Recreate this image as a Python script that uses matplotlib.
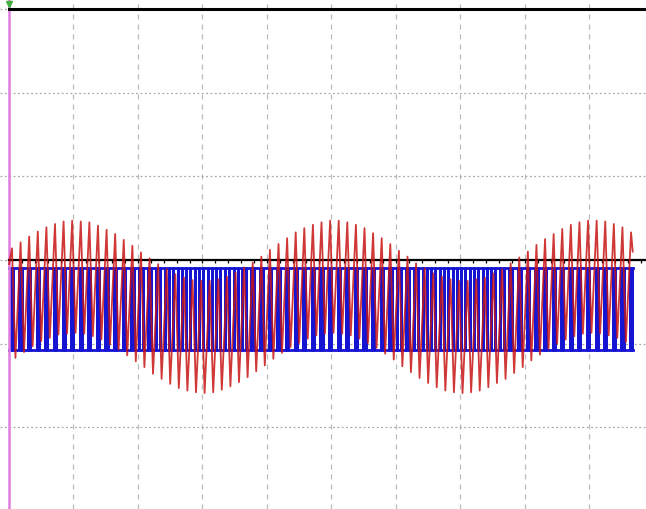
import numpy as np
import matplotlib.pyplot as plt
from matplotlib.ticker import MultipleLocator

# time and amplitude both in scope divisions
carrier_t0 = 0.0465
carrier_period = 0.1333
sig_start, sig_end = 0.0, 9.68

# red trace: value at each carrier peak and the trough that follows it
red_peaks = [0.14, 0.21, 0.28, 0.34, 0.39, 0.43, 0.46, 0.47, 0.46, 0.45, 0.41, 0.36, 0.31, 0.24, 0.17,
             0.09, 0.02, -0.05, -0.11, -0.17, -0.21, -0.24, -0.25, -0.25, -0.23, -0.20, -0.15, -0.09, -0.03, 0.04,
             0.12, 0.19, 0.26, 0.33, 0.38, 0.42, 0.45, 0.47, 0.47, 0.45, 0.42, 0.38, 0.32, 0.26, 0.19,
             0.11, 0.04, -0.04, -0.10, -0.16, -0.20, -0.23, -0.25, -0.25, -0.23, -0.21, -0.16, -0.11, -0.04, 0.03,
             0.10, 0.18, 0.25, 0.31, 0.37, 0.42, 0.45, 0.47, 0.47, 0.46, 0.43, 0.39, 0.33]
red_troughs = [-1.17, -1.10, -1.03, -0.97, -0.93, -0.89, -0.88, -0.87, -0.88, -0.91, -0.95, -1.01, -1.07, -1.14, -1.21,
               -1.28, -1.36, -1.42, -1.48, -1.53, -1.56, -1.58, -1.59, -1.58, -1.55, -1.51, -1.46, -1.40, -1.33, -1.26,
               -1.18, -1.11, -1.04, -0.99, -0.94, -0.90, -0.88, -0.87, -0.88, -0.90, -0.94, -0.99, -1.05, -1.12, -1.19,
               -1.27, -1.34, -1.41, -1.47, -1.52, -1.56, -1.58, -1.59, -1.58, -1.56, -1.52, -1.47, -1.42, -1.35, -1.28,
               -1.20, -1.13, -1.06, -1.00, -0.95, -0.91, -0.88, -0.87, -0.88, -0.90, -0.93, -0.98]
red_first, red_last = -0.05, 0.10

# blue gate pair: levels and switching bar width per carrier cycle (fraction of period)
blue_hi, blue_lo = -0.095, -1.075
blue_notch = [0.26, 0.26, 0.25, 0.24, 0.24, 0.24, 0.24, 0.24, 0.24, 0.24, 0.24, 0.25, 0.26, 0.28, 0.32,
              0.38, 0.42, 0.46, 0.48, 0.50, 0.52, 0.52, 0.52, 0.52, 0.50, 0.48, 0.46, 0.42, 0.38, 0.32,
              0.28, 0.26, 0.25, 0.24, 0.24, 0.24, 0.24, 0.24, 0.24, 0.24, 0.24, 0.25, 0.26, 0.28, 0.32,
              0.38, 0.42, 0.46, 0.48, 0.50, 0.52, 0.52, 0.52, 0.52, 0.50, 0.48, 0.46, 0.42, 0.38, 0.32,
              0.28, 0.26, 0.25, 0.24, 0.24, 0.24, 0.24, 0.24, 0.24, 0.24, 0.24, 0.25, 0.26]

peak_t = carrier_t0 + carrier_period * np.arange(len(red_peaks))
trough_t = peak_t[:len(red_troughs)] + 0.4 * carrier_period

red_t, red_v = [sig_start], [red_first]
for i, p in enumerate(red_peaks):
    red_t.append(peak_t[i]); red_v.append(p)
    if i < len(red_troughs):
        red_t.append(trough_t[i]); red_v.append(red_troughs[i])
red_t.append(sig_end - 0.01); red_v.append(red_last)

g1_t, g1_v = [sig_start], [blue_hi]
for tk, w in zip(peak_t, blue_notch):
    a = tk - w * carrier_period / 2
    b = tk + w * carrier_period / 2
    g1_t += [a, a, b, b]
    g1_v += [blue_hi, blue_lo, blue_lo, blue_hi]
g1_t.append(sig_end); g1_v.append(blue_hi)
g1_v = np.array(g1_v)
g2_v = blue_hi + blue_lo - g1_v

fig = plt.figure(figsize=(6.46, 5.09), dpi=100)
ax = fig.add_axes([0, 0, 1, 1])
ax.set_xlim(-0.1395, 9.876)
ax.set_ylim(-2.975, 3.106)

ax.xaxis.set_ticks_position('bottom')
ax.set_xticks(range(0, 10))
ax.set_yticks([-2, -1, 0, 1, 2, 3])
ax.xaxis.set_minor_locator(MultipleLocator(0.2))
ax.set_xticklabels([])
ax.set_yticklabels([])
ax.set_axisbelow(True)
ax.grid(axis='x', which='major', color='#bcbcbc', linestyle=(0, (4, 4)), lw=0.9)
ax.grid(axis='y', which='major', color='#a8a8a8', linestyle=(0, (1.5, 2)), lw=0.9)
ax.tick_params(labelbottom=False, labelleft=False, left=False)
ax.tick_params(axis='x', which='both', direction='out', length=2.5, width=0.9, color='black')

ax.spines['bottom'].set_position(('data', 0))
ax.spines['bottom'].set_bounds(0, 9.876)
ax.spines['bottom'].set_linewidth(1.6)
ax.spines['top'].set_position(('data', 3))
ax.spines['top'].set_bounds(0, 9.876)
ax.spines['top'].set_linewidth(2.2)
ax.spines['left'].set_position(('data', 0))
ax.spines['left'].set_color('#e07ee0')
ax.spines['left'].set_linewidth(1.8)
ax.spines['right'].set_visible(False)

ax.plot(g1_t, g1_v, color='#1414d2', lw=2.0, zorder=2)
ax.plot(g1_t, g2_v, color='#1414d2', lw=2.0, zorder=2)
ax.plot(red_t, red_v, color='#c81414', lw=1.3, alpha=0.85, zorder=3)
ax.plot(0, 3.06, marker='v', color='#40b040', ms=4, clip_on=False, zorder=4)

fig.savefig('out.png', dpi=100)
